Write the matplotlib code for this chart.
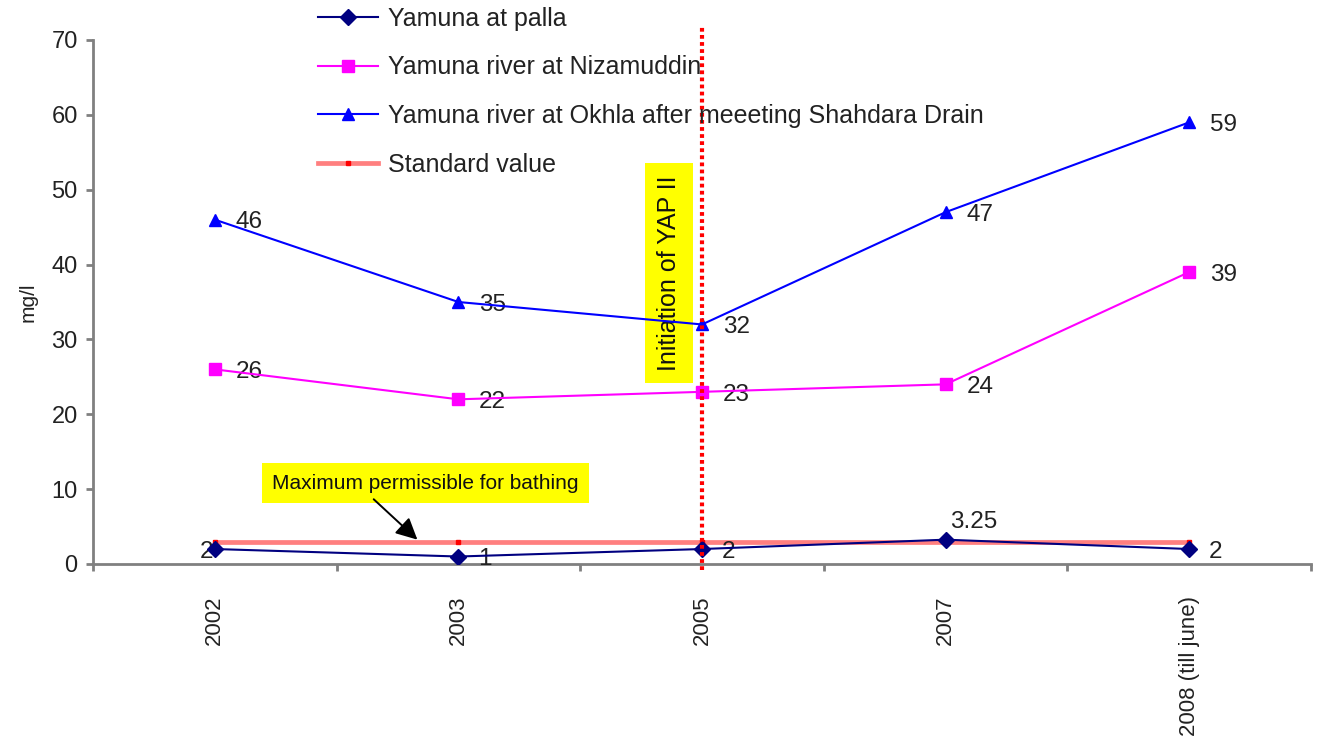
import matplotlib
matplotlib.use("Agg")
import matplotlib.pyplot as plt
from matplotlib.lines import Line2D

plt.rcParams['font.family'] = ['Liberation Sans', 'DejaVu Sans']

# BOD levels (mg/l) along the Yamuna
years = ["2002", "2003", "2005", "2007", "2008 (till june)"]
palla = [2, 1, 2, 3.25, 2]
palla_decimals = [0, 0, 0, 2, 0]
nizamuddin = [26, 22, 23, 24, 39]
okhla = [46, 35, 32, 47, 59]
standard = [3, 3, 3, 3, 3]

series_names = ["Yamuna at palla", "Yamuna river at Nizamuddin",
                "Yamuna river at Okhla after meeeting Shahdara Drain",
                "Standard value"]

W, H, DPI = 1320, 740, 100
fig = plt.figure(figsize=(W / DPI, H / DPI), dpi=DPI)
ax = fig.add_axes([93 / W, 1 - 564 / H, (1311 - 93) / W, (564 - 40) / H])

x = list(range(len(years)))

ax.plot(x, standard, color='#ff7f7f', lw=3.4, marker='s', ms=3.5,
        mfc='red', mec='red', zorder=3)
l_palla, = ax.plot(x, palla, color='#000080', lw=1.5, marker='D', ms=8,
                   mfc='#000080', mec='#000080', zorder=4)
l_niz, = ax.plot(x, nizamuddin, color='#ff00ff', lw=1.5, marker='s', ms=9,
                 mfc='#ff00ff', mec='#ff00ff', zorder=4)
l_okh, = ax.plot(x, okhla, color='#0000ff', lw=1.5, marker='^', ms=9,
                 mfc='#0000ff', mec='#0000ff', zorder=4)

ax.set_xlim(-0.5, len(years) - 0.5)
ax.set_ylim(0, 70)
ax.set_yticks(range(0, 71, 10))

# value labels
lab_kw = dict(fontsize=17.5, color='#222222', textcoords='offset points', va='center')
for xi, v in zip(x, okhla):
    ax.annotate(f"{v:.0f}", (xi, v), xytext=(15, -2), ha='left', **lab_kw)
for xi, v in zip(x, nizamuddin):
    ax.annotate(f"{v:.0f}", (xi, v), xytext=(15, -2), ha='left', **lab_kw)
for i, (xi, v, d) in enumerate(zip(x, palla, palla_decimals)):
    if i == 0:
        ax.annotate(f"{v:.{d}f}", (xi, v), xytext=(-1, -2), ha='right',
                    zorder=2, **lab_kw)
    elif d > 0:
        ax.annotate(f"{v:.{d}f}", (xi, v), xytext=(3, 13), ha='left', **lab_kw)
    else:
        ax.annotate(f"{v:.{d}f}", (xi, v), xytext=(14, -2), ha='left', **lab_kw)

# start of YAP II
ax.plot([2, 2], [-0.8, 72], color='red', lw=3.0, ls=(0, (0.9, 0.8)),
        clip_on=False, zorder=5)
ax.text(1.865, 38.9, "Initiation of YAP II", rotation=90, fontsize=18,
        ha='center', va='center', color='#111111',
        bbox=dict(boxstyle='square,pad=0.48', fc='#ffff00', ec='none'), zorder=3)

# bathing limit note
ax.text(0.865, 10.8, "Maximum permissible for bathing", fontsize=15,
        ha='center', va='center', color='#111111',
        bbox=dict(boxstyle='square,pad=0.5', fc='#ffff00', ec='none'), zorder=3)
ax.annotate("", xy=(0.84, 3.0), xytext=(0.644, 8.9),
            arrowprops=dict(arrowstyle='-|>,head_length=1.3,head_width=0.65',
                            color='black', lw=1.4), zorder=6)

# axes styling
for s in ('top', 'right'):
    ax.spines[s].set_visible(False)
for s in ('left', 'bottom'):
    ax.spines[s].set_color('#808080')
    ax.spines[s].set_linewidth(2)

ax.set_xticks(x)
ax.set_xticklabels(years, rotation=90, fontsize=16, color='#222222')
ax.tick_params(axis='x', which='major', length=0, pad=23)
ax.set_xticks([i + 0.5 for i in range(-1, len(years))], minor=True)
ax.tick_params(axis='x', which='minor', length=5, width=2, color='#808080',
               direction='out')
ax.tick_params(axis='y', length=5, width=2, color='#808080', pad=6,
               labelsize=17, labelcolor='#222222')
ax.set_ylabel("mg/l", fontsize=15, color='#222222', labelpad=10)

leg = fig.legend([l_palla, l_niz, l_okh,
                  Line2D([], [], color='#ff7f7f', lw=3.4, marker='s', ms=3.5,
                         mfc='red', mec='red')],
                 series_names, loc='upper left',
                 bbox_to_anchor=(318 / W, 1 - 7 / H), frameon=False,
                 fontsize=18, handlelength=2.4, handletextpad=0.4,
                 labelspacing=0.98, borderpad=0, borderaxespad=0)
for t in leg.get_texts():
    t.set_color('#222222')

fig.savefig("out.png", dpi=DPI)
